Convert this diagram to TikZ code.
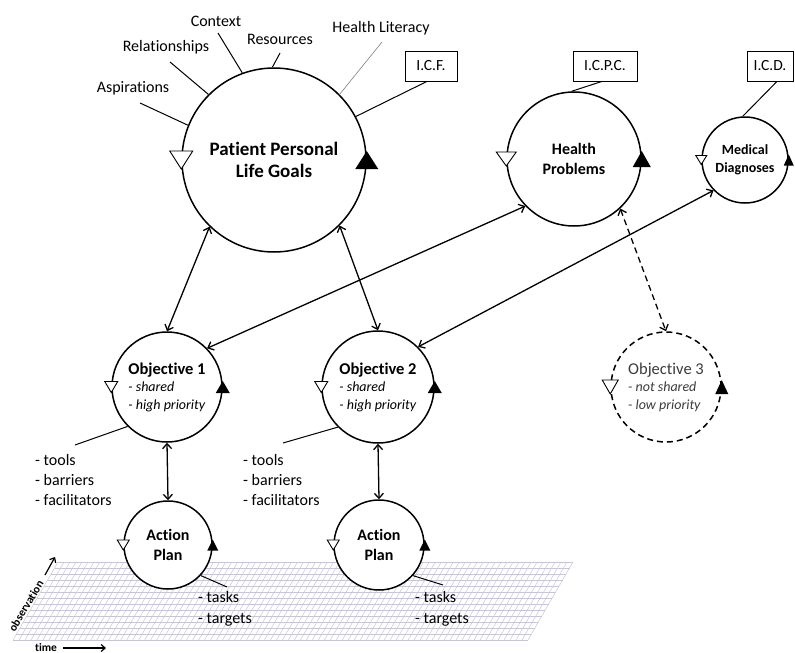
\documentclass[tikz,border=0pt]{standalone}
\usepackage{fontspec}
\setmainfont{Carlito}[Ligatures={NoCommon,NoContextual}]
\usetikzlibrary{arrows.meta,calc}
\definecolor{gridc}{RGB}{200,198,214}
\definecolor{txtgray}{RGB}{60,60,60}
\newcommand{\OpenTri}[3]{\draw[fill=white,line width=0.9pt,line join=miter] ($(#1)+(-#2/2,-#3/2)$) -- ($(#1)+(#2/2,-#3/2)$) -- ($(#1)+(0,#3/2)$) -- cycle;}
\newcommand{\FillTri}[3]{\fill ($(#1)+(-#2/2,#3/2)$) -- ($(#1)+(#2/2,#3/2)$) -- ($(#1)+(0,-#3/2)$) -- cycle;}
\begin{document}
\begin{tikzpicture}[x=1pt,y=-1pt,
  cyc/.style={circle,draw,line width=1.5pt,fill=white,inner sep=0pt,align=center},
  link/.style={line width=1.3pt,{Straight Barb[length=5pt,width=9pt]}-{Straight Barb[length=5pt,width=9pt]}},
  lbl/.style={font=\fontsize{16}{18}\selectfont,inner sep=1pt},
  tick/.style={line width=1pt},
  codebox/.style={draw,line width=0.8pt,fill=white,minimum height=30pt,inner sep=0pt,font=\fontsize{15.5}{17}\selectfont},
  listtxt/.style={align=left,anchor=west,inner sep=0pt},
  axis/.style={font=\bfseries\fontsize{11.5}{13}\selectfont,inner sep=0pt}
]
\useasboundingbox[fill=white] (0,0) rectangle (795,653);

% grid plane
\foreach \i in {0,...,13}
  \draw[gridc,line width=0.5pt] ({58-3.4615*\i},{562+6*\i}) -- ({573-3.4615*\i},{562+6*\i});
\foreach \j in {0,...,86}
  \draw[gridc,line width=0.5pt] ({58+5.988*\j},562) -- ({13+5.988*\j},640);

% circles
\node[cyc,minimum size=184pt,font=\bfseries\fontsize{19}{22}\selectfont] (goals) at (274,160) {Patient Personal\\Life Goals};
\node[cyc,minimum size=134pt,font=\bfseries\fontsize{16}{20}\selectfont] (hp) at (574,159) {Health\\Problems};
\node[cyc,minimum size=86pt,font=\bfseries\fontsize{14}{18}\selectfont] (md) at (745,160) {Medical\\Diagnoses};
\node[cyc,minimum size=110pt,align=left,font=\fontsize{16.5}{17.5}\selectfont] (o1) at (167,387)
  {\textbf{Objective 1}\\{\itshape\fontsize{14}{17.5}\selectfont - shared}\\{\itshape\fontsize{14}{17.5}\selectfont - high priority}};
\node[cyc,minimum size=112pt,align=left,font=\fontsize{16.5}{17.5}\selectfont] (o2) at (378,387)
  {\textbf{Objective 2}\\{\itshape\fontsize{14}{17.5}\selectfont - shared}\\{\itshape\fontsize{14}{17.5}\selectfont - high priority}};
\node[cyc,dash pattern=on 6pt off 4pt,minimum size=110pt,align=left,text=txtgray,font=\fontsize{16.5}{17.5}\selectfont] (o3) at (666,387)
  {Objective 3\\{\itshape\fontsize{14}{17.5}\selectfont - not shared}\\{\itshape\fontsize{14}{17.5}\selectfont - low priority}};
\node[cyc,minimum size=88pt,font=\bfseries\fontsize{16}{20}\selectfont] (ap1) at (168,545) {Action\\Plan};
\node[cyc,minimum size=90pt,font=\bfseries\fontsize{16}{20}\selectfont] (ap2) at (379,545) {Action\\Plan};

% direction markers
\OpenTri{goals.west}{23}{18}
\FillTri{goals.east}{23}{18}
\OpenTri{hp.west}{20}{14}
\FillTri{hp.east}{18}{16}
\OpenTri{md.west}{11}{9}
\FillTri{md.east}{10}{11}
\OpenTri{o1.west}{13}{11}
\FillTri{o1.east}{14}{12}
\OpenTri{o2.west}{13}{11}
\FillTri{o2.east}{14}{12}
\OpenTri{o3.west}{16}{14}
\FillTri{o3.east}{13}{14}
\OpenTri{ap1.west}{12}{10}
\FillTri{ap1.east}{11}{11}
\OpenTri{ap2.west}{12}{10}
\FillTri{ap2.east}{11}{11}

% classification boxes
\node[codebox,minimum width=52pt] (icf) at (431,66) {I.C.F.};
\node[codebox,minimum width=64pt] (icpc) at (605,66) {I.C.P.C.};
\node[codebox,minimum width=46pt] (icd) at (770,66) {I.C.D.};
\draw[tick] ([xshift=-4pt]icf.south) -- (goals.28);
\draw[tick] ([xshift=-3pt]icpc.south) -- (hp.92);
\draw[tick] ([xshift=7pt]icd.south) -- (md.93);

% context labels
\node[lbl] (asp) at (133,88) {Aspirations};
\node[lbl] (rel) at (166,47) {Relationships};
\node[lbl] (ctx) at (216,21) {Context};
\node[lbl] (res) at (280,39) {Resources};
\node[lbl] (hlit) at (381,28) {Health Literacy};
\coordinate (aspE) at (140,103);
\coordinate (relE) at (170,62);
\coordinate (ctxE) at (218,33);
\coordinate (resE) at (280,53);
\coordinate (hlitE) at (382,42);
\draw[tick] (aspE) -- (goals.158);
\draw[tick] (relE) -- (goals.135);
\draw[tick] (ctxE) -- (goals.110);
\draw[tick] (resE) -- (goals.91);
\draw[gray,line width=0.6pt] (hlitE) -- (goals.45);

% connectors
\draw[link] (goals.-134) -- (o1.north);
\draw[link] (goals.-45) -- (o2.north);
\draw[link] (hp.-136) -- (o1.44);
\draw[link] (md.-136) -- (o2.45);
\draw[link,dash pattern=on 6pt off 4pt] (hp.-47) -- (o3.north);
\draw[link] (o1.south) -- (ap1.north);
\draw[link] (o2.south) -- (ap2.north);

% lists
\node[listtxt,font=\fontsize{16}{20}\selectfont] (l1) at (35,480) {- tools\\- barriers\\- facilitators};
\node[listtxt,font=\fontsize{16}{20}\selectfont] (l2) at (243,480) {- tools\\- barriers\\- facilitators};
\node[listtxt,font=\fontsize{16}{21}\selectfont] (t1) at (198,609) {- tasks\\- targets};
\node[listtxt,font=\fontsize{16}{21}\selectfont] (t2) at (415,609) {- tasks\\- targets};
\coordinate (l1E) at (75,445);
\coordinate (l2E) at (283,443);
\coordinate (t1E) at (227,587);
\coordinate (t2E) at (443,585);
\draw[tick] (l1E) -- (o1.225);
\draw[tick] (l2E) -- (o2.225);
\draw[tick] (ap1.-43) -- (t1E);
\draw[tick] (ap2.-42) -- (t2E);

% axes
\node[axis,rotate=59] (obs) at (26,606) {observation};
\node[axis] (time) at (46,647) {time};
\coordinate (obsA) at (45,575);
\coordinate (obsB) at (55,557);
\coordinate (timeA) at (63,648);
\coordinate (timeB) at (106,648);
\draw[line width=1.2pt,-{Straight Barb[length=4pt,width=7pt]}] (obsA) -- (obsB);
\draw[line width=1.2pt,-{Straight Barb[length=4pt,width=7pt]}] (timeA) -- (timeB);
\end{tikzpicture}
\end{document}
